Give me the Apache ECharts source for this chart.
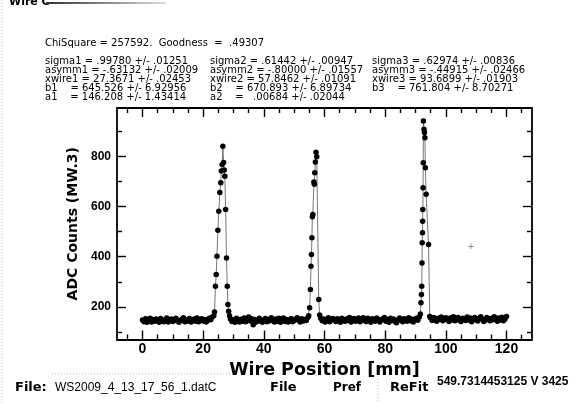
<!DOCTYPE html>
<html><head><meta charset="utf-8">
<script src="https://cdn.jsdelivr.net/npm/echarts@6/dist/echarts.min.js"></script>
<style>html,body{margin:0;padding:0;background:#fff}#c{width:580px;height:405px}</style>
</head><body><div id="c"></div>
<script>
// ---- axis ticks ----
const xTickLabels = [0, 20, 40, 60, 80, 100, 120];
const xMinorTicks = [-5, 5, 10, 15, 25, 30, 35, 45, 50, 55, 65, 70, 75, 85, 90, 95, 105, 110, 115, 125];
const yTickLabels = [200, 400, 600, 800];
const yMinorTicks = [100, 300, 500, 700, 900];

// ---- scan data (wire position mm, ADC counts) ----
// baseline segments: start position, step
const baseAStart = 0, baseStep = 0.5;
const baseAVals = [148,141,153,139,146,155,140,150,143,152,
                   145,139,154,147,141,149,156,140,147,152,
                   142,146,155,148,139,145,151,157,141,148,
                   144,154,140,147,152,143,156,141,148,153,
                   144,150,140,147,155,149,160];
const peak1Pts = [[23.5,165],[23.75,180],[24.05,282],[24.3,329],[24.55,402],[24.85,505],[25.15,581],
                  [25.5,655],[25.8,694],[26.0,741],[26.25,767],[26.5,840],[26.75,775],[26.95,745],
                  [27.15,720],[27.4,588],[27.7,395],[27.95,282],[28.15,209],[28.4,183],[28.7,165]];
const baseBStart = 29.0;
const baseBVals = [152,142,149,139,155,146,140,151,143,156,
                   141,148,160,144,153,129,150,140,147,155,
                   143,139,148,154,141,150,145,157,147,140,
                   152,143,155,139,147,156,142,150,140,148,
                   154,141,146,151,157,147,140,153,144,150,
                   146,158];
const peak2Pts = [[54.8,165],[55.1,196],[55.35,269],[55.55,362],[55.7,409],[55.85,475],[56.0,559],
                  [56.15,568],[56.5,697],[56.65,688],[56.8,734],[57.0,777],[57.2,816],[57.45,798],
                  [58.1,229],[58.4,168]];
const baseCStart = 58.75;
const baseCVals = [155,145,152,140,149,157,141,147,154,150,
                   142,153,147,139,155,149,143,152,146,158,
                   140,150,154,143,147,156,141,149,157,146,
                   142,155,149,139,153,147,143,156,150,140,
                   148,153,158,143,150,139,155,146,152,142,
                   137,149,156,147,141,153,150,143,157,146,
                   152,140,149,155,147,160];
const peak3Pts = [[91.6,172],[91.8,216],[91.95,249],[92.05,282],[92.15,375],[92.2,455],[92.3,495],
                  [92.35,541],[92.4,588],[92.5,674],[92.55,774],[92.6,940],[92.8,907],[92.95,894],
                  [93.1,874],[93.25,754],[93.5,648],[94.3,448],[94.7,162]];
const baseDStart = 95.0;
const baseDVals = [156,146,158,149,143,155,151,160,145,150,
                   157,152,142,156,148,161,145,151,158,147,
                   142,155,151,146,160,148,156,141,152,158,
                   149,144,155,161,151,142,148,158,152,145,
                   155,149,161,151,143,156,148,159,145,152,162];

// ---- fit results text ----
const fitHeader = 'ChiSquare = 257592.  Goodness  =  .49307';
const fitCol1 = ['sigma1 = .99780 +/- .01251', 'asymm1 = -.63132 +/- .02009', 'xwire1 = 27.3671 +/- .02453',
                 'b1    = 645.526 +/- 6.92956', 'a1    = 146.208 +/- 1.43414'];
const fitCol2 = ['sigma2 = .61442 +/- .00947', 'asymm2 = -.80000 +/- .01557', 'xwire2 = 57.8462 +/- .01091',
                 'b2    = 670.893 +/- 6.89734', 'a2    =   .00684 +/- .02044'];
const fitCol3 = ['sigma3 = .62974 +/- .00836', 'asymm3 = -.44915 +/- .02466', 'xwire3 = 93.6899 +/- .01903',
                 'b3    = 761.804 +/- 8.70271'];
const fileName = 'WS2009_4_13_17_56_1.datC';
const statusText = '549.7314453125 V 3425';

function seg(start, step, vals) {
  return vals.map((v, i) => [Math.round((start + i * step) * 100) / 100, v]);
}
const scan = [].concat(
  seg(baseAStart, baseStep, baseAVals), peak1Pts,
  seg(baseBStart, baseStep, baseBVals), peak2Pts,
  seg(baseCStart, baseStep, baseCVals), peak3Pts,
  seg(baseDStart, baseStep, baseDVals)
);

const XMIN = -8.4, XMAX = 128.4, YMIN = 70, YMAX = 992;
const axisLineStyle = { color: '#000', width: 1.8 };
const tickStyle = { color: '#000', width: 1.4 };

function xAxisDef(pos, ticks, len, main, line) {
  return {
    type: 'value', min: XMIN, max: XMAX, position: pos,
    axisLine: { show: line, onZero: false, lineStyle: axisLineStyle },
    axisTick: { show: true, inside: true, length: len, customValues: ticks, lineStyle: tickStyle },
    axisLabel: main ? { show: true, customValues: xTickLabels, margin: 3, color: '#000',
      fontFamily: 'Liberation Sans', fontWeight: 'bold', fontSize: 14 } : { show: false },
    splitLine: { show: false },
    name: main ? 'Wire Position [mm]' : '',
    nameLocation: 'middle', nameGap: 17,
    nameTextStyle: { color: '#000', fontFamily: 'DejaVu Sans', fontWeight: 'bold', fontSize: 17.5 }
  };
}
function yAxisDef(pos, ticks, len, main, line) {
  return {
    type: 'value', min: YMIN, max: YMAX, position: pos,
    axisLine: { show: line, onZero: false, lineStyle: axisLineStyle },
    axisTick: { show: true, inside: true, length: len, customValues: ticks, lineStyle: tickStyle },
    axisLabel: main ? { show: true, customValues: yTickLabels, margin: 6, color: '#000',
      fontFamily: 'Liberation Sans', fontWeight: 'bold', fontSize: 12 } : { show: false },
    splitLine: { show: false },
    name: main ? 'ADC Counts (MW.3)' : '',
    nameLocation: 'middle', nameGap: 28,
    nameTextStyle: { color: '#000', fontFamily: 'DejaVu Sans', fontWeight: 'bold', fontSize: 14 }
  };
}

const hdrFont = '10px "DejaVu Sans"';
const graphics = [];
function addText(text, x, y, font, extra) {
  graphics.push({ type: 'text', x: x, y: y, silent: true,
    style: Object.assign({ text: text, font: font, fill: '#000', verticalAlign: 'middle' }, extra || {}) });
}
addText('Wire C', 9, 2, 'bold 11px "DejaVu Sans"');
graphics.push({ type: 'rect', silent: true, shape: { x: 46, y: 2, width: 120, height: 2 },
  style: { fill: new echarts.graphic.LinearGradient(0, 0, 1, 0, [{ offset: 0, color: '#333' }, { offset: 1, color: '#ddd' }]) } });
graphics.push({ type: 'line', silent: true, shape: { x1: 2, y1: 0, x2: 2, y2: 405 },
  style: { stroke: '#bbb', lineWidth: 1, lineDash: [1, 2] } });
addText(fitHeader, 45, 43, hdrFont);
const rowY = [61, 70, 79, 88, 97];
fitCol1.forEach((t, i) => addText(t, 45, rowY[i], hdrFont));
fitCol2.forEach((t, i) => addText(t, 210, rowY[i], hdrFont));
fitCol3.forEach((t, i) => addText(t, 372, rowY[i], hdrFont));
addText('+', 471, 247, '9px "DejaVu Sans"', { fill: '#777', align: 'center' });
// bottom status row
addText('File:', 15, 388, 'bold 13px "DejaVu Sans"');
addText(fileName, 55, 388, '12px "Liberation Sans"');
graphics.push({ type: 'line', silent: true, shape: { x1: 52, y1: 374, x2: 232, y2: 374 },
  style: { stroke: '#bbb', lineWidth: 1, lineDash: [1, 2] } });
addText('File', 270, 388, 'bold 13px "DejaVu Sans"');
addText('Pref', 333, 388, 'bold 12px "DejaVu Sans"');
graphics.push({ type: 'line', silent: true, shape: { x1: 378, y1: 376, x2: 378, y2: 402 },
  style: { stroke: '#bbb', lineWidth: 1, lineDash: [1, 2] } });
addText('ReFit', 390, 388, 'bold 13px "DejaVu Sans"');
addText(statusText, 437, 382, 'bold 12px "Liberation Sans"');

const chart = echarts.init(document.getElementById('c'), null, { renderer: 'canvas' });
chart.setOption({
  backgroundColor: '#fff',
  animation: false,
  grid: { left: 117, right: 48, top: 108, bottom: 65.5, containLabel: false },
  xAxis: [
    xAxisDef('bottom', xTickLabels, 9, true, true),
    xAxisDef('bottom', xMinorTicks, 5, false, false),
    xAxisDef('top', xTickLabels, 9, false, true),
    xAxisDef('top', xMinorTicks, 5, false, false)
  ],
  yAxis: [
    yAxisDef('left', yTickLabels, 9, true, true),
    yAxisDef('left', yMinorTicks, 5, false, false),
    yAxisDef('right', yTickLabels, 9, false, true),
    yAxisDef('right', yMinorTicks, 5, false, false)
  ],
  series: [{
    type: 'line', xAxisIndex: 0, yAxisIndex: 0, data: scan,
    symbol: 'circle', symbolSize: 5.5, showAllSymbol: true,
    itemStyle: { color: '#000' },
    lineStyle: { color: '#555', width: 0.8 },
    emphasis: { disabled: true }
  }],
  graphic: graphics
});
</script></body></html>
